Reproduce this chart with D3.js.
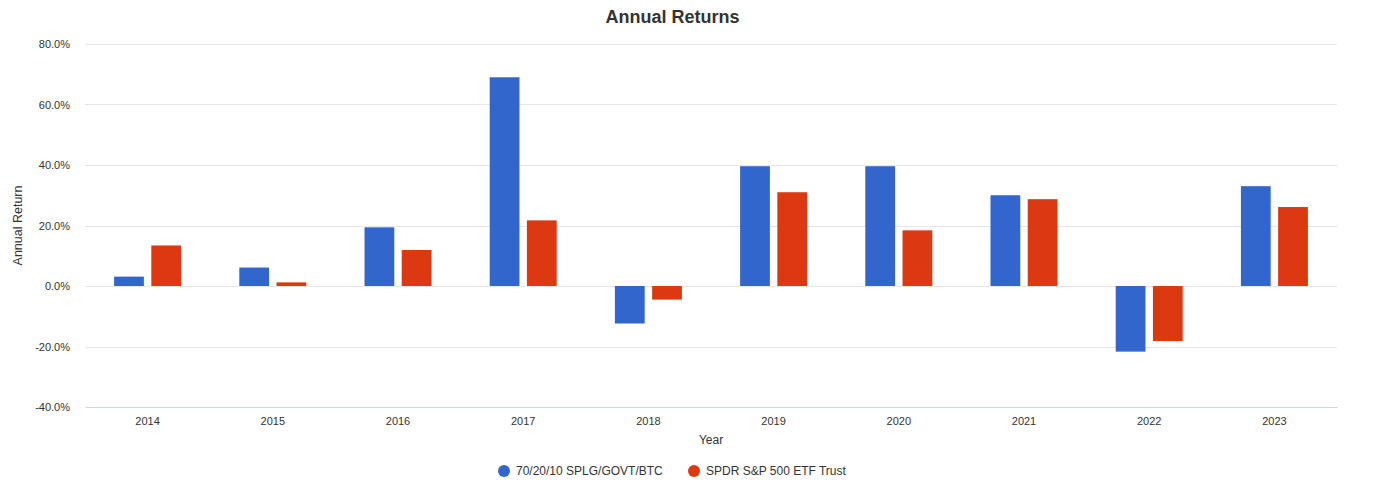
<!DOCTYPE html>
<html>
<head>
<meta charset="utf-8">
<script src="https://cdn.jsdelivr.net/npm/d3@7"></script>
<style>
  body { margin: 0; background: #fff; font-family: "Liberation Sans", Arial, sans-serif; }
</style>
</head>
<body>
<div id="chart"></div>
<script>
const years = ["2014", "2015", "2016", "2017", "2018", "2019", "2020", "2021", "2022", "2023"];
const seriesNames = ["70/20/10 SPLG/GOVT/BTC", "SPDR S&P 500 ETF Trust"];
const mixReturns = [3.1, 6.1, 19.4, 69.0, -12.4, 39.6, 39.6, 30.0, -21.7, 33.0];
const spyReturns = [13.4, 1.2, 11.9, 21.7, -4.5, 31.0, 18.4, 28.7, -18.2, 26.1];
const yTicks = [-40, -20, 0, 20, 40, 60, 80];
const colors = ["#3366cc", "#dc3912"];

const W = 1373, H = 489;
const margin = { top: 44, right: 36, bottom: 82, left: 85 };
const width = W - margin.left - margin.right;
const height = H - margin.top - margin.bottom;

const svg = d3.select("#chart").append("svg")
  .attr("width", W)
  .attr("height", H);

const g = svg.append("g")
  .attr("transform", `translate(${margin.left},${margin.top})`);

const x = d3.scaleBand()
  .domain(years)
  .range([0, width]);

const x1 = d3.scaleBand()
  .domain([0, 1])
  .range([x.bandwidth() / 2 - 33.5, x.bandwidth() / 2 + 33.5])
  .paddingInner(0.2);

const y = d3.scaleLinear()
  .domain([-40, 80])
  .range([height, 0]);

// gridlines
g.append("g")
  .selectAll("line")
  .data(yTicks.filter(d => d !== -40))
  .join("line")
  .attr("x1", 0)
  .attr("x2", width)
  .attr("y1", d => Math.round(y(d)) + 0.5)
  .attr("y2", d => Math.round(y(d)) + 0.5)
  .attr("stroke", "#e6e6e6");

// y axis labels
g.append("g")
  .call(d3.axisLeft(y).tickValues(yTicks).tickSize(0).tickPadding(15)
    .tickFormat(d => d.toFixed(1) + "%"))
  .call(a => a.select(".domain").remove())
  .selectAll("text")
  .style("font-size", "11px")
  .style("font-family", "Liberation Sans, Arial, sans-serif")
  .attr("fill", "#333");

// bars
const data = years.map((yr, i) => ({ year: yr, values: [mixReturns[i], spyReturns[i]] }));

g.append("g")
  .selectAll("g")
  .data(data)
  .join("g")
  .attr("transform", d => `translate(${x(d.year)},0)`)
  .selectAll("rect")
  .data(d => d.values.map((v, k) => ({ k, v })))
  .join("rect")
  .attr("x", d => x1(d.k))
  .attr("width", x1.bandwidth())
  .attr("y", d => y(Math.max(0, d.v)))
  .attr("height", d => Math.abs(y(d.v) - y(0)))
  .attr("fill", d => colors[d.k]);

// x axis
g.append("g")
  .attr("transform", `translate(0,${height})`)
  .call(d3.axisBottom(x).tickSize(0).tickPadding(10))
  .call(a => a.select(".domain").attr("stroke", "#ccd6eb"))
  .selectAll("text")
  .style("font-size", "11px")
  .style("font-family", "Liberation Sans, Arial, sans-serif")
  .attr("fill", "#333");

// axis titles
svg.append("text")
  .attr("x", margin.left + width / 2)
  .attr("y", 444)
  .attr("text-anchor", "middle")
  .style("font-size", "12px")
  .attr("fill", "#333")
  .text("Year");

svg.append("text")
  .attr("transform", `translate(22,${margin.top + y(20)}) rotate(-90)`)
  .attr("text-anchor", "middle")
  .style("font-size", "12.5px")
  .attr("fill", "#333")
  .text("Annual Return");

// title
svg.append("text")
  .attr("x", W / 2 - 14)
  .attr("y", 23)
  .attr("text-anchor", "middle")
  .style("font-size", "18px")
  .style("font-weight", "bold")
  .attr("fill", "#333")
  .text("Annual Returns");

// legend
const legendX = [504, 694];
const legend = svg.append("g")
  .selectAll("g")
  .data(seriesNames)
  .join("g")
  .attr("transform", (d, i) => `translate(${legendX[i]},471)`);

legend.append("circle")
  .attr("r", 6)
  .attr("fill", (d, i) => colors[i]);

legend.append("text")
  .attr("x", 12)
  .attr("dy", "0.35em")
  .style("font-size", "12px")
  .attr("fill", "#333")
  .text(d => d);
</script>
</body>
</html>
